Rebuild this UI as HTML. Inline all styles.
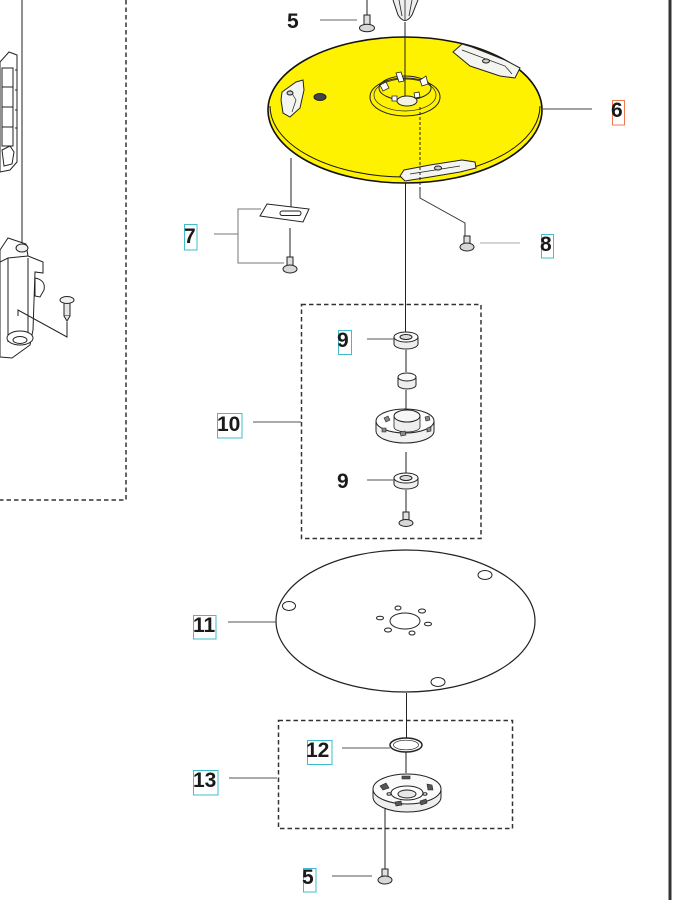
<!DOCTYPE html>
<html><head><meta charset="utf-8"><style>
html,body{margin:0;padding:0;background:#fff;}
svg{display:block;}
text{font-family:"Liberation Sans",Arial,sans-serif;font-weight:bold;font-size:21px;fill:#1a1a1a;}
</style></head><body>
<svg width="688" height="900" viewBox="0 0 688 900" xmlns="http://www.w3.org/2000/svg">
<rect width="688" height="900" fill="#fff"/>
<!-- right border -->
<rect x="668.5" y="0" width="3" height="900" fill="#333"/>

<!-- dashed boxes -->
<g fill="none" stroke="#333" stroke-width="1.5" stroke-dasharray="4.5,3">
<path d="M126,0 V500 H0"/>
<rect x="301.5" y="304.5" width="179.5" height="234"/>
<rect x="278.5" y="720.5" width="234" height="108"/>
</g>

<!-- left parts -->
<g stroke="#222" stroke-width="1" fill="#fff">
<line x1="22" y1="0" x2="22" y2="245"/>
<path d="M0,62 L9,52 L17,55 L17,162 L10,170 L0,172 Z"/>
<rect x="2" y="68" width="11" height="78" fill="#fff"/>
<path d="M2,87 H13 M2,107 H13 M2,127 H13" fill="none"/>
<path d="M15,70 h2 M15,90 h2 M15,110 h2 M15,128 h2" fill="none"/>
<path d="M2,150 L10,146 L14,152 L12,164 L4,166 Z" fill="#fff"/>
<path d="M0,250 L8,238 L26,244 L28,256 L43,262 L43,273 L35,272 L33,330 L30,345 L12,358 L0,357 Z"/>
<path d="M8,258 V342 M28,258 V335 M0,262 L8,258 L28,256" fill="none"/>
<ellipse cx="22" cy="248" rx="6" ry="4" fill="#f2f2f2"/>
<path d="M35,278 Q46,280 44,290 L40,297 L35,296 Z" fill="#fff"/>
<ellipse cx="20" cy="338" rx="13" ry="7" fill="#fff"/>
<ellipse cx="20" cy="340" rx="7" ry="3.5" fill="#fff"/>
<rect x="64" y="302" width="6" height="14" fill="#e6e6e6"/>
<path d="M64,316 L67,321 L70,316" fill="#e6e6e6"/>
<ellipse cx="67" cy="300" rx="7" ry="3.5" fill="#f0f0f0"/>
<path d="M67,322 V337 L18,310 V316" fill="none"/>
</g>

<!-- top screw 5 and spike -->
<g stroke="#222" stroke-width="1">
<line x1="367" y1="0" x2="367" y2="15" />
<rect x="364" y="15" width="6" height="11" fill="#e0e0e0"/>
<ellipse cx="367" cy="28" rx="7.5" ry="3.8" fill="#d8d8d8"/>
<path d="M393,0 L398,15 Q405,26 412,15 L418,0" fill="#eee"/>
<path d="M399,0 L402,16 M412,0 L409,16 M405,0 V20" fill="none" stroke-width="0.8"/>
</g>
<line x1="320" y1="20" x2="357" y2="20" stroke="#666" stroke-width="1"/>

<!-- yellow disc 6 -->
<ellipse cx="405" cy="110" rx="137" ry="73" fill="#fff200" stroke="#111" stroke-width="1.6"/>
<path d="M270,106 A135,71 0 0 0 540,106" fill="none" stroke="#111" stroke-width="1"/>
<g stroke="#222" stroke-width="1">
<path d="M453,52 L462,44 L472,47 L505,60 L520,68 L515,78 L500,76 L470,66 Z" fill="#f4f4f0"/>
<path d="M462,50 L505,66 L512,74" fill="none" stroke-width="0.7"/>
<ellipse cx="486" cy="61" rx="3.5" ry="2" fill="#ccc"/>
<path d="M282,92 L296,82 L303,80 L304,90 L300,108 L290,117 L283,113 L281,100 Z" fill="#f4f4f0"/>
<path d="M290,90 L296,100 L292,112" fill="none" stroke-width="0.7"/>
<ellipse cx="290" cy="93" rx="3" ry="2" fill="#ccc"/>
<path d="M400,176 L404,170 L430,165 L462,160 L475,162 L476,168 L460,172 L430,177 L405,181 Z" fill="#f4f4f0"/>
<path d="M410,174 L460,166" fill="none" stroke-width="0.7"/>
<ellipse cx="438" cy="168" rx="3.5" ry="2" fill="#ccc"/>
<ellipse cx="320" cy="97" rx="6" ry="3.5" fill="#444"/>
<!-- hub -->
<ellipse cx="405" cy="97" rx="35" ry="19" fill="none"/>
<ellipse cx="405" cy="95" rx="31" ry="16" fill="none" stroke-width="0.7"/>
<ellipse cx="405" cy="88" rx="26" ry="12" fill="none"/>
<ellipse cx="407" cy="101" rx="10" ry="5" fill="#f3f3e0"/>
<path d="M380,85 l6,-3 l3,6 l-6,3 Z M396,73 l5,-1 l3,9 l-5,1 Z M420,80 l6,-4 l2,8 l-6,2 Z M392,96 l5,0 l0,5 l-5,0 Z M414,93 l5,-1 l1,5 l-5,1 Z" fill="#fff" stroke-width="0.8"/>
<line x1="405" y1="22" x2="405" y2="96"/>
</g>
<path d="M420,107 V190" stroke="#222" stroke-width="1" stroke-dasharray="3,2" fill="none"/>
<path d="M420,190 V198 L465,223 V236" stroke="#333" stroke-width="1" fill="none"/>
<line x1="543" y1="109" x2="592" y2="109" stroke="#444" stroke-width="1"/>

<!-- item 7 -->
<g stroke="#222" stroke-width="1">
<line x1="291" y1="158" x2="291" y2="207"/>
<path d="M267,204 L309,209 L303,222 L260,216 Z" fill="#fff"/>
<rect x="280" y="211" width="21" height="4.5" rx="2.2" fill="#fff"/>
<line x1="290" y1="228" x2="290" y2="257"/>
<rect x="287" y="257" width="6" height="9" fill="#e0e0e0"/>
<ellipse cx="290" cy="269" rx="7" ry="4" fill="#d8d8d8"/>
</g>
<path d="M261,209 H238 V263 H284 M214,234 H238" stroke="#777" stroke-width="1" fill="none"/>

<!-- item 8 screw -->
<g stroke="#222" stroke-width="1">
<rect x="464" y="236" width="6" height="9" fill="#e0e0e0"/>
<ellipse cx="467" cy="247" rx="7" ry="4" fill="#d8d8d8"/>
</g>
<line x1="480" y1="243" x2="520" y2="243" stroke="#aaa" stroke-width="1"/>

<!-- central line -->
<line x1="405.5" y1="183" x2="405.5" y2="333" stroke="#222" stroke-width="1"/>

<!-- box 10 contents -->
<g stroke="#222" stroke-width="1">
<path d="M394,337 V344 A12,5 0 0 0 418,344 V337" fill="#eee"/>
<ellipse cx="406" cy="337" rx="12" ry="5" fill="#fafafa"/>
<ellipse cx="406" cy="337" rx="6" ry="2.5" fill="#ddd"/>
<line x1="406" y1="350" x2="406" y2="372"/>
<path d="M398,377 V385 A9,4 0 0 0 416,385 V377" fill="#eee"/>
<ellipse cx="407" cy="377" rx="9" ry="4" fill="#fafafa"/>
<line x1="406" y1="390" x2="406" y2="412"/>
<path d="M376,421 V431 A29,12 0 0 0 434,431 V421" fill="#f2f2f2"/>
<ellipse cx="405" cy="421" rx="29" ry="12" fill="#fff"/>
<path d="M394,416 V427 A13,5 0 0 0 420,427 V416" fill="#eee" stroke-width="0.8"/>
<ellipse cx="407" cy="416" rx="13" ry="6" fill="#f7f7f7"/>
<path d="M384,418 l4,-2 l2,4 l-4,2 Z M425,417 l4,-1 l1,4 l-4,1 Z M400,432 l5,-1 l1,4 l-5,1 Z M382,428 l4,0 l0,4 l-4,0 Z M427,428 l4,-1 l0,4 l-4,1 Z" fill="#888" stroke-width="0.6"/>
<line x1="406" y1="452" x2="406" y2="473"/>
<path d="M394,478 V484 A12,5 0 0 0 418,484 V478" fill="#eee"/>
<ellipse cx="406" cy="478" rx="12" ry="5" fill="#fafafa"/>
<ellipse cx="406" cy="478" rx="6" ry="2.5" fill="#ddd"/>
<line x1="406" y1="490" x2="406" y2="512"/>
<rect x="403" y="512" width="6" height="9" fill="#e0e0e0"/>
<ellipse cx="406" cy="523" rx="7" ry="3.5" fill="#d8d8d8"/>
</g>
<g stroke="#555" stroke-width="1">
<line x1="367" y1="339" x2="394" y2="339"/>
<line x1="253" y1="422" x2="301" y2="422"/>
<line x1="367" y1="480" x2="394" y2="480"/>
</g>

<!-- disc 11 -->
<g stroke="#222" stroke-width="1">
<ellipse cx="405.5" cy="621" rx="129.5" ry="71" fill="#fff" stroke-width="1.2"/>
<ellipse cx="289" cy="606" rx="6.5" ry="4.5" fill="#fff"/>
<ellipse cx="485" cy="575" rx="7" ry="4.5" fill="#fff"/>
<ellipse cx="438" cy="682" rx="7" ry="4.5" fill="#fff"/>
<ellipse cx="405" cy="621" rx="15" ry="8" fill="#fff"/>
<ellipse cx="398" cy="608" rx="3" ry="2" fill="#fff"/>
<ellipse cx="422" cy="611" rx="3.5" ry="2" fill="#fff"/>
<ellipse cx="428" cy="624" rx="3.5" ry="1.8" fill="#fff"/>
<ellipse cx="412" cy="633" rx="3" ry="2" fill="#fff"/>
<ellipse cx="388" cy="630" rx="3.5" ry="2" fill="#fff"/>
<ellipse cx="380" cy="618" rx="3.5" ry="1.8" fill="#fff"/>
<line x1="406.5" y1="693" x2="406.5" y2="738"/>
</g>
<line x1="228" y1="622" x2="276" y2="622" stroke="#555" stroke-width="1"/>

<!-- box 13 contents -->
<g stroke="#222" stroke-width="1">
<ellipse cx="406" cy="745" rx="16" ry="7" fill="none" stroke-width="1.5"/>
<ellipse cx="406" cy="745" rx="12.5" ry="4.8" fill="none" stroke-width="0.7"/>
<line x1="406" y1="752" x2="406" y2="773"/>
<path d="M373,789 V797 A34,15 0 0 0 441,797 V789" fill="#eee"/>
<ellipse cx="407" cy="789" rx="34" ry="15" fill="#fafafa"/>
<ellipse cx="407" cy="793" rx="16" ry="7" fill="#fff"/>
<ellipse cx="407" cy="794" rx="9" ry="4" fill="#e8e8e8"/>
<path d="M380,786 l6,-3 l3,5 l-6,2 Z M427,784 l5,1 l1,5 l-5,0 Z M395,802 l6,-1 l1,4 l-6,1 Z M420,801 l6,-2 l1,4 l-6,2 Z M402,776 l8,0 l0,3 l-8,0 Z" fill="#555" stroke-width="0.6"/>
<ellipse cx="389" cy="794" rx="2" ry="1.2" fill="#fff"/>
<ellipse cx="425" cy="794" rx="2" ry="1.2" fill="#fff"/>
<line x1="385" y1="808" x2="385" y2="869"/>
<rect x="382" y="869" width="6" height="9" fill="#e0e0e0"/>
<ellipse cx="385" cy="880" rx="7" ry="4" fill="#d8d8d8"/>
</g>
<g stroke="#555" stroke-width="1">
<line x1="342" y1="748" x2="390" y2="748"/>
<line x1="229" y1="778" x2="277" y2="778"/>
<line x1="332" y1="876" x2="372" y2="876"/>
</g>

<!-- label boxes -->
<g fill="none" stroke-width="1">
<rect x="612.5" y="100.5" width="12" height="24.5" stroke="#f07850"/>
<g stroke="#40bccb">
<rect x="184.5" y="224.5" width="12.5" height="25.5"/>
<rect x="541.5" y="234.5" width="12" height="23.5"/>
<rect x="338.5" y="330.5" width="13" height="24"/>
<rect x="217.5" y="413.5" width="24.5" height="24.5"/>
<rect x="193.5" y="615.5" width="22.5" height="23.5"/>
<rect x="307.5" y="740.5" width="24.5" height="24"/>
<rect x="193.5" y="770.5" width="24.5" height="24.5"/>
<rect x="303.5" y="868.5" width="12.5" height="23.5"/>
</g>
</g>

<!-- labels -->
<text x="287" y="28">5</text>
<text x="611" y="117">6</text>
<text x="184" y="243">7</text>
<text x="540" y="251">8</text>
<text x="337" y="347">9</text>
<text x="217" y="431">10</text>
<text x="337" y="488">9</text>
<text x="193" y="632">11</text>
<text x="306" y="757">12</text>
<text x="193" y="787">13</text>
<text x="302" y="884">5</text>
</svg>
</body></html>
